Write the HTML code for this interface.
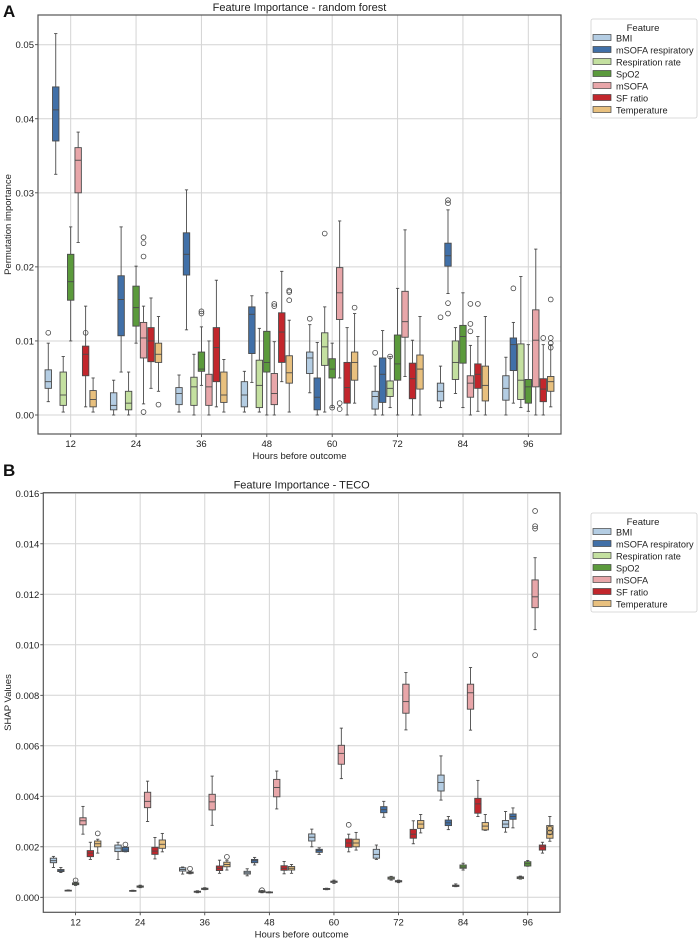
<!DOCTYPE html>
<html><head><meta charset="utf-8"><style>
body{margin:0;background:#fff;}
svg{display:block;font-family:"Liberation Sans","DejaVu Sans",sans-serif;}
</style></head><body>
<svg id="fig" width="700" height="938" viewBox="0 0 700 938" xmlns="http://www.w3.org/2000/svg"></svg>
<script>
const hours=[12,24,36,48,60,72,84,96];
const features=["BMI","mSOFA respiratory","Respiration rate","SpO2","mSOFA","SF ratio","Temperature"];
const colors=["#b4cde3","#4170a8","#c4e0a0","#5b9a3c","#e8a6a9","#c2262c","#e8c07e"];
// Panel A stats per feature: [whiskerLow,q1,median,q3,whiskerHigh] per hour
const rfBMI=[[0.0018,0.0036,0.0045,0.0061,0.0097],[0,0.0007,0.0013,0.003,0.0047],[0.0004,0.0014,0.0029,0.0037,0.0054],[0.0004,0.0011,0.0027,0.0045,0.0059],[0.003,0.0056,0.0077,0.0085,0.0122],[0,0.0008,0.0025,0.0032,0.0066],[0.001,0.0019,0.0032,0.0043,0.0066],[0,0.002,0.0036,0.0053,0.0078]];
const rfResp=[[0.0325,0.037,0.0412,0.0443,0.0515],[0.0058,0.0107,0.0156,0.0188,0.0254],[0.0115,0.0189,0.0217,0.0246,0.0304],[0.0044,0.0083,0.0136,0.0146,0.0161],[0,0.0007,0.0024,0.005,0.0098],[0,0.0017,0.0055,0.0077,0.0114],[0.0164,0.0201,0.0215,0.0232,0.0277],[0.0016,0.006,0.0095,0.0104,0.0125]];
const rfRR=[[0.0004,0.0013,0.0027,0.0058,0.0079],[0,0.0007,0.0016,0.0032,0.0058],[0,0.0013,0.0038,0.0051,0.0082],[0.0004,0.001,0.004,0.0074,0.0117],[0.0004,0.0067,0.0092,0.0111,0.0146],[0.001,0.0025,0.0036,0.0046,0.0079],[0.0029,0.0048,0.0071,0.01,0.0118],[0.001,0.0021,0.0047,0.0096,0.0187]];
const rfSpO2=[[0.01,0.0155,0.018,0.0217,0.0254],[0.0097,0.012,0.0145,0.0174,0.0201],[0.004,0.0059,0.0062,0.0085,0.0119],[0,0.0058,0.0071,0.0113,0.0165],[0.001,0.005,0.0062,0.0076,0.0097],[0,0.0047,0.0069,0.0108,0.0171],[0.001,0.007,0.0106,0.0121,0.0165],[0.0005,0.0016,0.0038,0.0048,0.0095]];
const rfMSOFA=[[0.0233,0.03,0.0344,0.0361,0.0382],[0.0015,0.0077,0.0104,0.0125,0.0147],[0,0.0013,0.0038,0.0055,0.01],[0,0.0014,0.0029,0.0056,0.0099],[0.005,0.0129,0.0165,0.0199,0.0262],[0.0052,0.0105,0.0126,0.0167,0.025],[0,0.0024,0.0043,0.0053,0.0094],[0,0.0038,0.0101,0.0142,0.0224]];
const rfSF=[[0.0011,0.0053,0.0082,0.0093,0.0147],[0.0036,0.0072,0.01,0.0118,0.0158],[0.0011,0.0045,0.0091,0.0118,0.0182],[0.0045,0.0071,0.0112,0.0138,0.0194],[0,0.0016,0.0037,0.0071,0.0118],[0,0.0022,0.0049,0.007,0.0101],[0.0005,0.0036,0.0055,0.0069,0.0106],[0,0.0018,0.0035,0.0049,0.0095]];
const rfTemp=[[0.0004,0.0011,0.0021,0.0033,0.005],[0.0032,0.0071,0.0082,0.0097,0.0133],[0.0004,0.0017,0.0027,0.0058,0.0075],[0.0004,0.0043,0.0057,0.008,0.0128],[0.0016,0.0047,0.0071,0.0085,0.0137],[0,0.0035,0.0062,0.0081,0.0133],[0,0.0019,0.004,0.0066,0.0133],[0.0011,0.0032,0.0045,0.0052,0.0095]];
// outliers: [hourIndex, featureIndex, value]
const rfOutliers=[[0,0,0.0111],[0,5,0.0111],[1,4,0.0214],[1,4,0.0232],[1,4,0.024],[1,4,0.0004],[1,6,0.0014],[2,3,0.0137],[2,3,0.014],[3,4,0.0147],[3,4,0.015],[3,6,0.0155],[3,6,0.0166],[3,6,0.0168],[4,0,0.013],[4,2,0.0245],[4,3,0.001],[4,4,0.0016],[4,4,0.0008],[4,6,0.0145],[5,0,0.0084],[5,2,0.0079],[6,0,0.0132],[6,1,0.0286],[6,1,0.029],[6,1,0.0151],[6,1,0.0137],[6,4,0.0113],[6,4,0.0123],[6,4,0.015],[6,5,0.015],[7,1,0.0171],[7,5,0.0104],[7,6,0.0156],[7,6,0.0104],[7,6,0.0097],[7,6,0.0091]];
// Panel B stats
const tcBMI=[[0.00118,0.00137,0.00145,0.00155,0.00162],[0.0015,0.00181,0.00195,0.00207,0.00218],[0.00092,0.00104,0.0011,0.00117,0.0012],[0.00085,0.00092,0.00097,0.00103,0.00113],[0.002,0.00223,0.00238,0.00251,0.0027],[0.0015,0.00155,0.0017,0.0019,0.00207],[0.00385,0.00421,0.00455,0.00484,0.0056],[0.00258,0.00276,0.0029,0.00304,0.0034]];
const tcResp=[[0.00098,0.00102,0.00105,0.0011,0.00118],[0.0018,0.00181,0.00187,0.00198,0.002],[0.00093,0.00095,0.00097,0.001,0.00103],[0.00128,0.00137,0.00145,0.0015,0.00158],[0.0017,0.00178,0.00185,0.0019,0.00196],[0.00317,0.00335,0.00347,0.00359,0.0038],[0.00268,0.00284,0.00295,0.00306,0.0032],[0.00275,0.00309,0.0032,0.0033,0.00354]];
const tcRR=[[0.00025,0.00025,0.00027,0.00028,0.00029],[0.00024,0.00025,0.00026,0.00027,0.00028],[0.00018,0.0002,0.00022,0.00024,0.00026],[0.00018,0.0002,0.00022,0.00025,0.00027],[0.0003,0.00031,0.00033,0.00035,0.00036],[0.00068,0.00072,0.00076,0.0008,0.00083],[0.00042,0.00043,0.00045,0.00048,0.00053],[0.00072,0.00074,0.00078,0.00081,0.00084]];
const tcSpO2=[[0.00047,0.0005,0.00053,0.00057,0.0006],[0.00038,0.0004,0.00042,0.00045,0.00048],[0.0003,0.00031,0.00033,0.00036,0.00038],[0.00018,0.00019,0.0002,0.00021,0.00022],[0.00055,0.00059,0.00062,0.00064,0.00068],[0.00058,0.00061,0.00063,0.00066,0.00068],[0.00108,0.00115,0.0012,0.00128,0.00135],[0.00123,0.00124,0.00133,0.00141,0.00146]];
const tcMSOFA=[[0.0025,0.00287,0.00303,0.00315,0.0036],[0.003,0.00355,0.0038,0.00416,0.0046],[0.00285,0.00346,0.00378,0.00408,0.0048],[0.0035,0.00398,0.00435,0.00467,0.005],[0.0047,0.00527,0.0057,0.00602,0.0067],[0.00663,0.00729,0.00775,0.00844,0.0089],[0.00662,0.00745,0.0081,0.00844,0.0091],[0.0106,0.01147,0.0119,0.01257,0.01345]];
const tcSF=[[0.0015,0.00161,0.00175,0.00185,0.00218],[0.00152,0.0017,0.00183,0.00198,0.00237],[0.00095,0.00106,0.00115,0.00124,0.00147],[0.00093,0.00107,0.00115,0.00125,0.00142],[0.0018,0.00198,0.00215,0.00231,0.0025],[0.00212,0.00234,0.0025,0.00269,0.00303],[0.0032,0.00333,0.0037,0.00392,0.00463],[0.00175,0.00187,0.002,0.00207,0.00218]];
const tcTemp=[[0.00175,0.002,0.00212,0.00223,0.0023],[0.0018,0.00194,0.0021,0.00227,0.00253],[0.00108,0.00121,0.0013,0.00139,0.00145],[0.00095,0.00108,0.00115,0.00122,0.0013],[0.00187,0.002,0.00215,0.0023,0.00257],[0.00255,0.00273,0.0029,0.00304,0.00328],[0.00265,0.00267,0.00282,0.00296,0.00328],[0.00222,0.00234,0.0025,0.00284,0.0032]];
const tcOutliers=[[0,3,0.00067],[0,6,0.00253],[1,1,0.00209],[2,1,0.00113],[2,6,0.0016],[3,2,0.00028],[4,5,0.00287],[7,4,0.0153],[7,4,0.0147],[7,4,0.0146],[7,4,0.00959],[7,6,0.00257],[7,6,0.00272]];
const rfTicks=[0,0.01,0.02,0.03,0.04,0.05];
const tcTicks=[0,0.002,0.004,0.006,0.008,0.01,0.012,0.014,0.016];

const NS="http://www.w3.org/2000/svg";
const svg=document.getElementById('fig');
function mk(tag,attrs,parent){const e=document.createElementNS(NS,tag);for(const k in attrs)e.setAttribute(k,attrs[k]);(parent||svg).appendChild(e);return e;}

function panel(p){
  const g=mk('g',{});
  
  
  const L=p.left,R=p.right,T=p.top,B=p.bottom;
  const y=v=>p.y0px-(v-0)*(p.y0px-p.y1px)/p.y1v;
  const band=(R-L)/hours.length;
  const x=i=>L+band*(i+0.5);
  const slot=band*0.8/features.length;
  const bw=slot*0.86;
  p.ticks.forEach(t=>{
    const gl=mk('line',{x1:L,x2:R,y1:y(t),y2:y(t),stroke:'#d4d4d4','stroke-width':1},g);
    
    
    const tl=mk('text',{x:L-4,y:y(t)+3.5,'text-anchor':'end','font-size':9.5,fill:'#222'},g);
    tl.textContent=t.toFixed(p.dec);
    
    
    mk('line',{x1:L-3,x2:L,y1:y(t),y2:y(t),stroke:'#333','stroke-width':0.8},g);
  });
  hours.forEach((h,i)=>{
    const gl=mk('line',{x1:x(i),x2:x(i),y1:T,y2:B,stroke:'#d4d4d4','stroke-width':1},g);
    
    
    mk('line',{x1:x(i),x2:x(i),y1:B,y2:B+3,stroke:'#333','stroke-width':0.8},g);
    const tl=mk('text',{x:x(i),y:B+13,'text-anchor':'middle','font-size':9.5,fill:'#222'},g);
    tl.textContent=h;
    
    
  });
  p.stats.forEach((arr,f)=>{
    arr.forEach((s,i)=>{
      const cx=x(i)+(f-3)*slot;
      const bg=mk('g',{},g);
      
      
      const c='#4a4a4a';
      mk('line',{x1:cx,x2:cx,y1:y(s[0]),y2:y(s[1]),stroke:c,'stroke-width':0.9},bg);
      mk('line',{x1:cx,x2:cx,y1:y(s[3]),y2:y(s[4]),stroke:c,'stroke-width':0.9},bg);
      mk('line',{x1:cx-bw/4,x2:cx+bw/4,y1:y(s[0]),y2:y(s[0]),stroke:c,'stroke-width':0.9},bg);
      mk('line',{x1:cx-bw/4,x2:cx+bw/4,y1:y(s[4]),y2:y(s[4]),stroke:c,'stroke-width':0.9},bg);
      mk('rect',{x:cx-bw/2,y:y(s[3]),width:bw,height:Math.max(0.8,y(s[1])-y(s[3])),fill:colors[f],stroke:c,'stroke-width':0.9},bg);
      mk('line',{x1:cx-bw/2,x2:cx+bw/2,y1:y(s[2]),y2:y(s[2]),stroke:c,'stroke-width':0.9},bg);
    });
  });
  p.outliers.forEach(o=>{
    const cx=x(o[0])+(o[1]-3)*slot;
    const ci=mk('circle',{cx:cx,cy:y(o[2]),r:2.4,fill:'none',stroke:'#444','stroke-width':0.8},g);
    
    
  });
  const fr=mk('rect',{x:L,y:T,width:R-L,height:B-T,fill:'none',stroke:'#555','stroke-width':1.2},g);
  
  
  const ti=mk('text',{x:(L+R)/2,y:T-4,'text-anchor':'middle','font-size':11,fill:'#222'},g);
  ti.textContent=p.title;
  
  
  const xt=mk('text',{x:(L+R)/2,y:B+25,'text-anchor':'middle','font-size':9.5,fill:'#222'},g);
  xt.textContent='Hours before outcome';
  
  
  const yc=(T+B)/2;
  const yt=mk('text',{x:0,y:0,'text-anchor':'middle','font-size':9.5,fill:'#222',transform:`translate(${p.ytx},${yc}) rotate(-90)`},g);
  yt.textContent=p.ytitle;
  
  
  const lb=mk('text',{x:3,y:p.labelY,'font-size':17,'font-weight':'bold',fill:'#111'},g);
  lb.textContent=p.label;
  
  
  const lg=mk('g',{},g);
  
  
  const ly=p.legTop;
  mk('rect',{x:591,y:ly,width:106,height:99,rx:2,fill:'#fff',stroke:'#d0d0d0','stroke-width':0.8},lg);
  const lt=mk('text',{x:643,y:ly+12,'text-anchor':'middle','font-size':9.5,fill:'#222'},lg);
  lt.textContent='Feature';
  features.forEach((f,k)=>{
    const e=mk('g',{},lg);
    
    
    const yy=ly+19+k*12;
    mk('rect',{x:593,y:yy-3.5,width:18,height:6,fill:colors[k],stroke:'#444','stroke-width':0.7},e);
    const t=mk('text',{x:616,y:yy+3.3,'font-size':9.2,fill:'#222'},e);
    t.textContent=f;
  });
}
panel({name:'panel-a-random-forest',left:38,right:561,top:15,bottom:434,y0px:415,y1px:44.7,y1v:0.05,ticks:rfTicks,dec:2,
  stats:[rfBMI,rfResp,rfRR,rfSpO2,rfMSOFA,rfSF,rfTemp],outliers:rfOutliers,title:'Feature Importance - random forest',
  ytitle:'Permutation importance',ytx:11,label:'A',labelY:17,legTop:19});
panel({name:'panel-b-teco',left:43.3,right:560,top:492.7,bottom:912.3,y0px:897.3,y1px:493.3,y1v:0.016,ticks:tcTicks,dec:3,
  stats:[tcBMI,tcResp,tcRR,tcSpO2,tcMSOFA,tcSF,tcTemp],outliers:tcOutliers,title:'Feature Importance - TECO',
  ytitle:'SHAP Values',ytx:11,label:'B',labelY:476,legTop:513});
</script>
</body></html>
